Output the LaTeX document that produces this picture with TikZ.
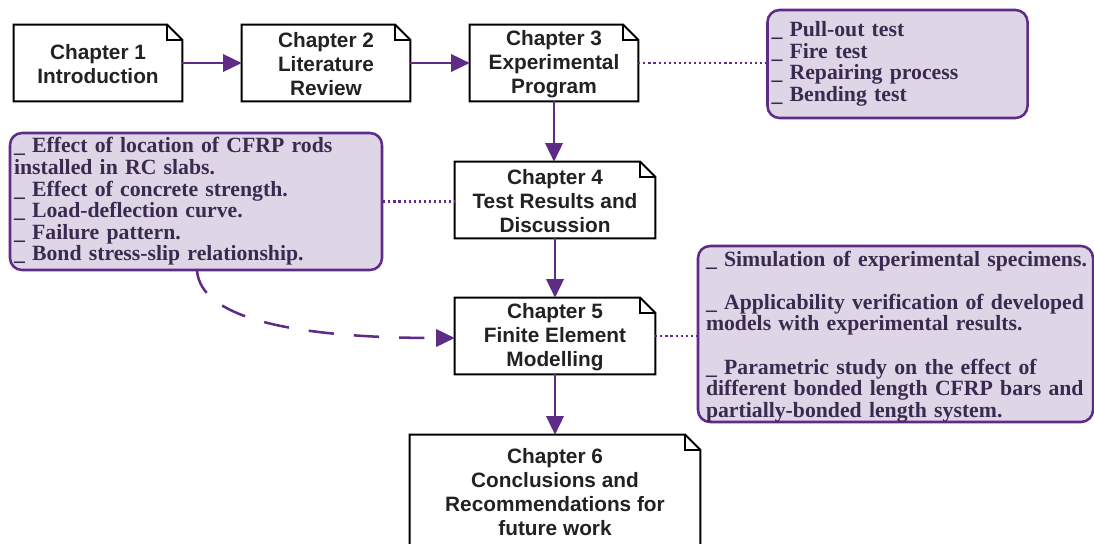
\documentclass[tikz,border=0pt]{standalone}
\usepackage{fontspec}
\usetikzlibrary{arrows.meta,calc}
\newfontfamily\chapfont{Liberation Sans}
\newfontfamily\notefont{Liberation Serif}
\definecolor{purp}{HTML}{5E2B86}
\definecolor{lav}{HTML}{DED6E6}
\definecolor{notetext}{HTML}{3B2A4F}
\definecolor{chaptext}{HTML}{222222}
\tikzset{
  chap/.style={inner sep=0pt, align=center, text=chaptext,
    font=\chapfont\bfseries\fontsize{15.6pt}{17.8pt}\selectfont},
  chapline/.style={draw=black, line width=1.5pt, fill=white, line join=miter},
  notebox/.style={draw=purp, fill=lav, line width=1.9pt, rounded corners=9pt,
    align=left, text=notetext, inner xsep=3pt, inner ysep=0pt,
    font=\notefont\bfseries\fontsize{16.3pt}{16.2pt}\selectfont},
  arr/.style={draw=purp, line width=1.9pt, -{Triangle[length=14pt,width=13pt]}},
  dots/.style={draw=purp, line width=1.6pt, dash pattern=on 1.6pt off 2.2pt},
  dashy/.style={draw=purp, line width=1.9pt, dash pattern=on 19pt off 15pt,
    -{Triangle[length=14pt,width=13pt]}},
}
\newcommand\dogear[1]{%
  \path[chapline] (#1.south west) -- (#1.north west) -- ($(#1.north east)+(-15,0)$)
    -- ($(#1.north east)+(0,15)$) -- (#1.south east) -- cycle;
  \draw[chapline, fill=none] ($(#1.north east)+(-15,0)$) |- ($(#1.north east)+(0,15)$);}
\begin{document}
\begin{tikzpicture}[x=0.75pt,y=-0.75pt]
\useasboundingbox (0,0) rectangle (1094,543);
% chapter nodes (sizes only)
\node[chap, minimum width=168*0.75pt, minimum height=76*0.75pt] (c1) at (98,63) {};
\node[chap, minimum width=168*0.75pt, minimum height=76*0.75pt] (c2) at (326,63) {};
\node[chap, minimum width=168*0.75pt, minimum height=76*0.75pt] (c3) at (554,63) {};
\node[chap, minimum width=200*0.75pt, minimum height=76*0.75pt] (c4) at (555,200) {};
\node[chap, minimum width=200*0.75pt, minimum height=76*0.75pt] (c5) at (555,336) {};
\node[chap, minimum width=290*0.75pt, minimum height=120*0.75pt] (c6) at (555,495) {};
\foreach \n in {c1,c2,c3,c4,c5,c6}{\dogear{\n}}
% chapter texts
\node[chap] at ($(c1)+(0,1)$) {Chapter 1\\Introduction};
\node[chap] at ($(c2)+(0,1)$) {Chapter 2\\Literature\\Review};
\node[chap] at ($(c3)+(0,1)$) {Chapter 3\\Experimental\\Program};
\node[chap] at ($(c4)+(0,1)$) {Chapter 4\\Test Results and\\Discussion};
\node[chap] at ($(c5)+(0,1)$) {Chapter 5\\Finite Element\\Modelling};
\node[chap, anchor=north, font=\chapfont\bfseries\fontsize{15.6pt}{18pt}\selectfont]
  at (555,448) {Chapter 6\\Conclusions and\\Recommendations for\\future work};
% callouts
\node[notebox, minimum width=259*0.75pt, minimum height=108*0.75pt,
  text width=252*0.75pt] (n3) at (897.5,64)
  {\_ Pull-out test\\\_ Fire test\\\_ Repairing process\\\_ Bending test};
\node[notebox, minimum width=368*0.75pt, minimum height=137*0.75pt,
  text width=364*0.75pt] (n4) at (196,201.5)
  {\_ Effect of location of CFRP rods\\installed in RC slabs.\\\_ Effect of concrete strength.\\\_ Load-deflection curve.\\\_ Failure pattern.\\\_ Bond stress-slip relationship.};
\node[notebox, inner xsep=6pt, minimum width=395*0.75pt, minimum height=176*0.75pt,
  text width=379*0.75pt] (n5) at (895.5,334)
  {\rule{0pt}{15pt}\mbox{\_ Simulation of experimental specimens.}\\[16.2pt]\mbox{\_ Applicability verification of developed}\\models with experimental results.\\[16.2pt]\_ Parametric study on the effect of\\\mbox{different bonded length CFRP bars and}\\partially-bonded length system.};
% connectors
\draw[arr] (c1) -- (c2);
\draw[arr] (c2) -- (c3);
\draw[arr] (c3.south) -- (c3.south |- c4.north);
\draw[arr] (c4.south) -- (c5.north);
\draw[arr] (c5.south) -- (c5.south |- c6.north);
\draw[dots] (c3.east) -- (c3.east -| n3.west);
\draw[dots] (n4.east) -- (n4.east -| c4.west);
\draw[dots] (c5.east) -- (c5.east -| n5.west);
\coordinate (d0) at (197,270);
\draw[dashy] (d0) .. controls (200,320) and (300,338) .. ($(c5.west)+(0,2)$);
\end{tikzpicture}
\end{document}
